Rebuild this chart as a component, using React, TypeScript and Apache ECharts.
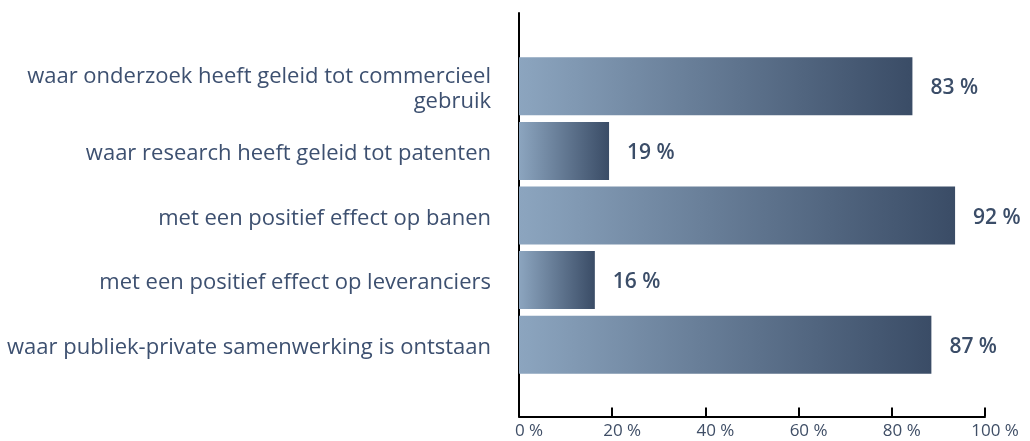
import React, { useEffect, useRef } from "react";
import * as echarts from "echarts";

const categories = [
  "waar onderzoek heeft geleid tot commercieel\ngebruik",
  "waar research heeft geleid tot patenten",
  "met een positief effect op banen",
  "met een positief effect op leveranciers",
  "waar publiek-private samenwerking is ontstaan",
];
const values = [83, 19, 92, 16, 87];
const tickValues = [0, 20, 40, 60, 80, 100];

const FONT = "'Open Sans', 'Noto Sans', sans-serif";
const TEXT = "#3d5070";

export default function App() {
  const ref = useRef<HTMLDivElement>(null);
  useEffect(() => {
    if (!ref.current) return;
    const chart = echarts.init(ref.current, undefined, { renderer: "svg" });
    const grad = new echarts.graphic.LinearGradient(0, 0, 1, 0, [
      { offset: 0, color: "#8ca5bf" },
      { offset: 1, color: "#3a4c66" },
    ]);
    chart.setOption({
      animation: false,
      textStyle: { fontFamily: FONT },
      grid: [
        { left: 519, width: 474, top: 54, bottom: 64 },
        { left: 519, width: 466, top: 13, bottom: 24.5 },
      ],
      xAxis: [
        { gridIndex: 0, type: "value", min: 0, max: 100, show: false },
        {
          gridIndex: 1,
          type: "value",
          min: 0,
          max: tickValues[tickValues.length - 1],
          interval: 20,
          axisLine: { show: true, lineStyle: { color: "#000", width: 2 } },
          axisTick: { show: true, inside: true, length: 9, lineStyle: { color: "#000", width: 2 } },
          splitLine: { show: false },
          axisLabel: {
            formatter: "{value} %",
            fontFamily: FONT,
            fontSize: 17,
            color: "#3f4e66",
            margin: 4,
            padding: [0, 0, 0, 20],
          },
        },
      ],
      yAxis: [
        {
          gridIndex: 0,
          type: "category",
          inverse: true,
          data: categories,
          axisLine: { show: false },
          axisTick: { show: false },
          axisLabel: {
            fontFamily: FONT,
            fontSize: 22,
            color: TEXT,
            margin: 28,
            lineHeight: 25,
            align: "right",
          },
        },
        {
          gridIndex: 1,
          type: "value",
          min: 0,
          max: 1,
          axisLine: { show: true, lineStyle: { color: "#000", width: 2 } },
          axisTick: { show: false },
          axisLabel: { show: false },
          splitLine: { show: false },
        },
      ],
      series: [
        {
          type: "bar",
          xAxisIndex: 0,
          yAxisIndex: 0,
          data: values,
          barWidth: 58,
          itemStyle: { color: grad },
          label: {
            show: true,
            position: "right",
            distance: 18,
            formatter: "{c} %",
            fontFamily: FONT,
            fontSize: 21,
            fontWeight: 600,
            color: "#3b4d68",
          },
        },
        { type: "scatter", xAxisIndex: 1, yAxisIndex: 1, data: [] },
      ],
    });
    return () => chart.dispose();
  }, []);
  return (
    <div
      ref={ref}
      style={{ position: "fixed", left: 0, top: 0, width: 1030, height: 441 }}
    />
  );
}
